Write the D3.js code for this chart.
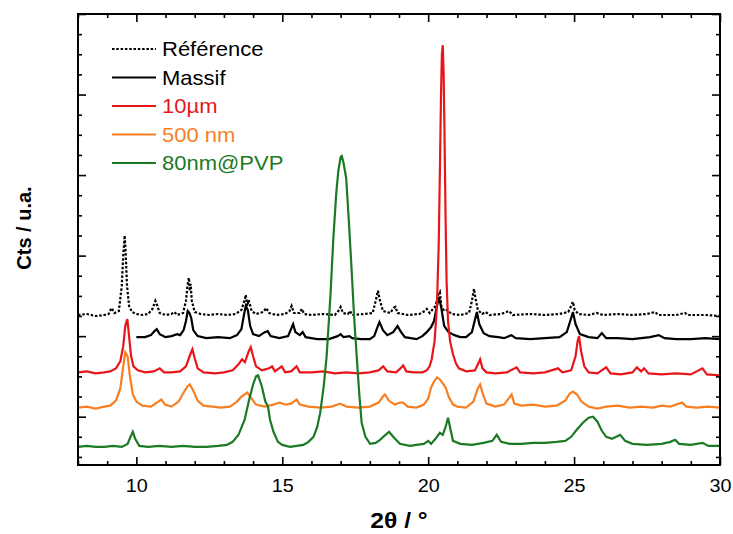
<!DOCTYPE html>
<html><head><meta charset="utf-8">
<script src="https://cdn.jsdelivr.net/npm/d3@7"></script>
<style>body{margin:0;background:#fff}svg{display:block}</style>
</head><body><script>
// ---------- DATA (2θ in degrees, intensity in arbitrary units) ----------
const seriesNames = ["Référence", "Massif", "10µm", "500 nm", "80nm@PVP"];
const xTickLabels = [10, 15, 20, 25, 30];

const reference = [[8,141],[8.3,142],[8.6,140],[8.9,141],[9.05,142],[9.15,148],[9.25,143],[9.4,145],[9.5,170],[9.55,200],[9.6,220],[9.63,205],[9.68,170],[9.75,150],[9.85,144],[10.0,142],[10.2,141],[10.4,142],[10.55,147],[10.65,155],[10.72,150],[10.8,143],[11.0,141],[11.2,142],[11.3,144],[11.4,141],[11.6,143],[11.7,155],[11.75,170],[11.8,178],[11.83,165],[11.86,172],[11.9,155],[12.0,144],[12.2,142],[12.5,141],[12.8,142],[13.1,141],[13.4,142],[13.6,146],[13.7,155],[13.75,161],[13.8,150],[13.85,156],[13.95,145],[14.1,142],[14.35,144],[14.45,148],[14.55,143],[14.8,141],[15.1,142],[15.25,145],[15.32,150],[15.4,143],[15.6,143],[15.67,147],[15.75,142],[16.0,141],[16.4,142],[16.8,141],[16.95,146],[17.0,149],[17.08,143],[17.25,142],[17.32,145],[17.4,141],[17.8,142],[18.1,143],[18.2,155],[18.28,165],[18.35,155],[18.45,145],[18.7,143],[18.82,148],[18.88,149],[18.95,143],[19.3,141],[19.7,142],[19.88,145],[19.95,147],[20.05,143],[20.25,150],[20.35,162],[20.4,164],[20.45,150],[20.55,145],[20.65,146],[20.8,142],[21.1,141],[21.4,143],[21.5,155],[21.57,167],[21.62,158],[21.7,146],[21.85,142],[21.97,144],[22.1,141],[22.5,142],[22.77,145],[22.9,141],[23.5,142],[24.0,141],[24.5,142],[24.8,144],[24.9,150],[24.96,154],[25.02,146],[25.15,142],[25.5,141],[25.77,143],[26.0,141],[26.5,142],[27.0,141],[27.5,142],[27.77,144],[27.9,141],[28.5,141],[28.8,143],[28.9,141],[29.5,141],[30,140]];

const massif = [[10.0,119],[10.3,119],[10.5,121],[10.62,125],[10.7,127],[10.8,122],[11.0,119],[11.2,120],[11.4,122],[11.5,121],[11.62,126],[11.7,135],[11.76,145],[11.82,143],[11.88,138],[11.95,126],[12.1,120],[12.4,118],[12.8,119],[13.2,118],[13.45,121],[13.6,127],[13.68,140],[13.75,150],[13.82,146],[13.9,130],[14.0,122],[14.2,120],[14.4,124],[14.5,125],[14.6,120],[14.9,118],[15.2,120],[15.3,127],[15.37,132],[15.45,124],[15.6,121],[15.7,124],[15.8,119],[16.2,117],[16.6,117],[16.9,120],[17.0,122],[17.1,119],[17.3,120],[17.4,118],[17.7,117],[18.0,117],[18.15,120],[18.25,128],[18.33,134],[18.45,126],[18.6,121],[18.8,124],[18.95,130],[19.05,125],[19.2,119],[19.6,117],[19.8,120],[19.95,124],[20.1,129],[20.2,135],[20.3,150],[20.37,159],[20.45,148],[20.55,130],[20.7,124],[20.9,121],[21.1,119],[21.3,119],[21.5,124],[21.6,136],[21.67,144],[21.75,132],[21.9,123],[22.1,120],[22.4,119],[22.6,118],[22.85,121],[23.0,118],[23.5,117],[24.0,118],[24.5,119],[24.75,124],[24.9,138],[24.96,144],[25.05,132],[25.2,122],[25.5,119],[25.8,118],[25.95,123],[26.1,118],[26.5,118],[27.0,117],[27.3,118],[27.6,119],[27.9,121],[28.1,118],[28.5,117],[29.0,117],[29.5,118],[30,117]];

const micro10 = [[8,84],[8.3,85],[8.6,83],[8.9,84],[9.1,85],[9.3,88],[9.45,95],[9.55,110],[9.62,130],[9.69,137],[9.75,120],[9.82,100],[9.9,90],[10.05,86],[10.3,84],[10.6,85],[10.8,88],[10.95,84],[11.2,84],[11.5,85],[11.7,90],[11.85,102],[11.92,107],[12.0,98],[12.1,88],[12.3,84],[12.7,83],[13.0,84],[13.3,86],[13.5,92],[13.62,97],[13.72,94],[13.85,105],[13.92,109],[14.0,100],[14.1,90],[14.3,86],[14.55,88],[14.65,90],[14.75,85],[14.98,90],[15.1,84],[15.3,85],[15.49,90],[15.6,84],[16.0,84],[16.4,85],[16.8,83],[17.2,84],[17.6,83],[18.0,84],[18.3,86],[18.46,90],[18.6,85],[18.9,84],[19.05,88],[19.14,91],[19.25,85],[19.5,84],[19.8,84],[19.95,86],[20.05,90],[20.12,97],[20.22,115],[20.3,150],[20.36,210],[20.4,282],[20.44,360],[20.47,400],[20.5,409],[20.53,380],[20.56,320],[20.6,230],[20.63,175],[20.68,135],[20.75,115],[20.85,102],[20.95,93],[21.05,88],[21.3,85],[21.6,86],[21.72,93],[21.78,97],[21.86,88],[22.0,84],[22.3,83],[22.7,84],[23.03,89],[23.15,84],[23.6,83],[24.0,84],[24.45,88],[24.6,84],[24.9,86],[25.05,100],[25.12,115],[25.17,120],[25.24,105],[25.35,90],[25.5,84],[25.8,83],[26.1,89],[26.25,83],[26.6,82],[27.0,84],[27.15,89],[27.3,85],[27.4,88],[27.55,83],[28.0,82],[28.5,83],[29.0,82],[29.4,88],[29.55,82],[30,81]];

const nano500 = [[8,49],[8.3,50],[8.6,48],[8.9,50],[9.1,51],[9.3,56],[9.45,68],[9.55,90],[9.62,104],[9.7,100],[9.78,80],[9.88,62],[10.0,55],[10.2,51],[10.5,50],[10.75,55],[10.86,57],[10.98,52],[11.2,50],[11.45,55],[11.6,63],[11.75,70],[11.83,72],[11.95,66],[12.1,56],[12.3,51],[12.6,50],[12.9,49],[13.2,50],[13.45,55],[13.6,60],[13.8,64],[13.95,58],[14.1,52],[14.4,50],[14.7,52],[14.9,54],[15.1,52],[15.3,53],[15.49,57],[15.6,52],[15.9,50],[16.3,49],[16.7,50],[16.98,53],[17.2,50],[17.6,49],[18.0,50],[18.3,54],[18.45,60],[18.52,62],[18.65,56],[18.85,52],[19.05,54],[19.14,54],[19.3,50],[19.6,49],[19.85,52],[20.0,58],[20.1,69],[20.2,75],[20.3,79],[20.4,77],[20.5,73],[20.6,69],[20.7,60],[20.85,52],[21.0,50],[21.3,49],[21.55,55],[21.7,68],[21.78,72],[21.88,62],[22.0,53],[22.3,50],[22.6,52],[22.86,62],[22.95,53],[23.2,51],[23.6,52],[24.0,50],[24.4,51],[24.7,56],[24.85,63],[24.96,65],[25.1,62],[25.25,55],[25.5,50],[25.8,48],[26.1,50],[26.5,51],[26.9,49],[27.3,50],[27.7,49],[28.0,51],[28.3,50],[28.7,54],[28.85,50],[29.2,49],[29.6,50],[30,49]];

const pvp80 = [[8,10],[8.3,11],[8.6,10],[8.9,10],[9.2,11],[9.5,10],[9.7,13],[9.8,20],[9.88,25],[9.96,18],[10.1,11],[10.4,10],[10.8,11],[11.2,10],[11.6,11],[12.0,10],[12.4,10],[12.8,11],[13.1,12],[13.3,15],[13.5,22],[13.71,37],[13.85,55],[14.0,72],[14.1,80],[14.17,81],[14.3,70],[14.42,55],[14.51,50],[14.58,37],[14.7,25],[14.85,15],[15.0,12],[15.27,10],[15.5,11],[15.72,12],[15.9,15],[16.07,20],[16.2,30],[16.3,44],[16.42,70],[16.52,100],[16.65,160],[16.75,217],[16.85,262],[16.92,284],[17.0,298],[17.04,299],[17.1,292],[17.19,277],[17.28,235],[17.38,184],[17.46,140],[17.55,100],[17.64,62],[17.72,34],[17.85,20],[18.01,13],[18.2,14],[18.35,17],[18.5,21],[18.66,25],[18.8,20],[19.03,13],[19.37,11],[19.6,12],[19.85,13],[20.0,16],[20.1,13],[20.25,18],[20.4,24],[20.5,22],[20.6,30],[20.68,39],[20.76,28],[20.85,16],[21.1,13],[21.5,12],[21.9,14],[22.2,16],[22.35,22],[22.5,15],[22.8,13],[23.2,13],[23.6,14],[24.0,14],[24.4,15],[24.7,16],[24.9,20],[25.09,27],[25.3,34],[25.5,39],[25.65,40],[25.8,35],[25.95,26],[26.1,20],[26.3,18],[26.58,22],[26.75,16],[27.0,13],[27.5,12],[28.0,13],[28.3,15],[28.46,17],[28.6,13],[29.0,12],[29.4,14],[29.6,11],[30,11]];

const seriesData = [reference, massif, micro10, nano500, pvp80];

// ---------- STYLE ----------
const colors = ["#000000", "#000000", "#e8161b", "#f77f22", "#1b7a24"];
const dashes = ["2.5,1.8", null, null, null, null];
const W = 733, H = 534;
const M = {left: 78, right: 720, top: 14, bottom: 465};
const FONT = "'Liberation Sans', Arial, sans-serif";

const svg = d3.select("body").append("svg").attr("width", W).attr("height", H)
  .style("font-family", FONT);

const x = d3.scaleLinear().domain([8, 30]).range([M.left, M.right]);
const y = d3.scaleLinear().domain([-8, 440]).range([M.bottom, M.top]);

const line = d3.line().x(d => x(d[0])).y(d => y(d[1]));

const plot = svg.append("g");
plot.append("clipPath").attr("id", "clip").append("rect")
  .attr("x", M.left).attr("y", M.top).attr("width", M.right - M.left).attr("height", M.bottom - M.top);

const order = [0, 1, 3, 2, 4];
order.forEach(i => {
  plot.append("path").datum(seriesData[i])
    .attr("clip-path", "url(#clip)")
    .attr("fill", "none")
    .attr("stroke", colors[i])
    .attr("stroke-width", 2.2)
    .attr("stroke-linejoin", "miter")
    .attr("stroke-dasharray", dashes[i])
    .attr("d", line);
});

// ---------- AXES (ticks inward on all four sides) ----------
const xMinor = d3.range(8, 31).filter(v => v % 5 !== 0);
const yTicksAll = d3.range(0, 441, 20);
const yMinor = yTicksAll.filter(v => (v - 40) % 80 !== 0);
const yMajor = yTicksAll.filter(v => (v - 40) % 80 === 0);
const MAJ = 8, MIN = 4;

function styleAxis(g) {
  g.select(".domain").remove();
  g.selectAll(".tick line").attr("stroke", "#000").attr("stroke-width", 1.6);
}
// bottom
svg.append("g").attr("transform", `translate(0,${M.bottom})`)
  .call(d3.axisBottom(x).tickValues(xTickLabels).tickSize(-MAJ).tickPadding(14).tickFormat(d3.format("d")))
  .call(styleAxis)
  .call(g => g.selectAll("text").attr("font-size", 18).attr("fill", "#000")
    .attr("font-family", FONT).attr("transform", "scale(1.1,1)")
    .attr("x", 0));
svg.append("g").attr("transform", `translate(0,${M.bottom})`)
  .call(d3.axisBottom(x).tickValues(xMinor).tickSize(-MIN).tickFormat(""))
  .call(styleAxis);
// top
svg.append("g").attr("transform", `translate(0,${M.top})`)
  .call(d3.axisTop(x).tickValues(xTickLabels).tickSize(-MAJ).tickFormat(""))
  .call(styleAxis);
svg.append("g").attr("transform", `translate(0,${M.top})`)
  .call(d3.axisTop(x).tickValues(xMinor).tickSize(-MIN).tickFormat(""))
  .call(styleAxis);
// left
svg.append("g").attr("transform", `translate(${M.left},0)`)
  .call(d3.axisLeft(y).tickValues(yMajor).tickSize(-MAJ).tickFormat(""))
  .call(styleAxis);
svg.append("g").attr("transform", `translate(${M.left},0)`)
  .call(d3.axisLeft(y).tickValues(yMinor).tickSize(-MIN).tickFormat(""))
  .call(styleAxis);
// right
svg.append("g").attr("transform", `translate(${M.right},0)`)
  .call(d3.axisRight(y).tickValues(yMajor).tickSize(-MAJ).tickFormat(""))
  .call(styleAxis);
svg.append("g").attr("transform", `translate(${M.right},0)`)
  .call(d3.axisRight(y).tickValues(yMinor).tickSize(-MIN).tickFormat(""))
  .call(styleAxis);

// frame
svg.append("rect").attr("x", M.left).attr("y", M.top)
  .attr("width", M.right - M.left).attr("height", M.bottom - M.top)
  .attr("fill", "none").attr("stroke", "#000").attr("stroke-width", 2);

// axis titles
svg.append("text").attr("transform", `translate(${(M.left + M.right) / 2},528) scale(1.12,1)`)
  .attr("text-anchor", "middle").attr("font-weight", "bold").attr("font-size", 22)
  .text("2θ / °");
svg.append("text").attr("transform", `translate(31,228) rotate(-90)`)
  .attr("text-anchor", "middle").attr("font-weight", "bold").attr("font-size", 20)
  .text("Cts / u.a.");

// legend
const leg = svg.append("g");
seriesNames.forEach((name, i) => {
  const ly = 49 + i * 28.5;
  leg.append("line").attr("x1", 112).attr("x2", 156).attr("y1", ly).attr("y2", ly)
    .attr("stroke", colors[i]).attr("stroke-width", 2).attr("stroke-dasharray", dashes[i]);
  leg.append("text").attr("transform", `translate(162,${ly + 7}) scale(1.1,1)`)
    .attr("font-size", 20).attr("fill", colors[i]).text(name);
});
</script></body></html>
